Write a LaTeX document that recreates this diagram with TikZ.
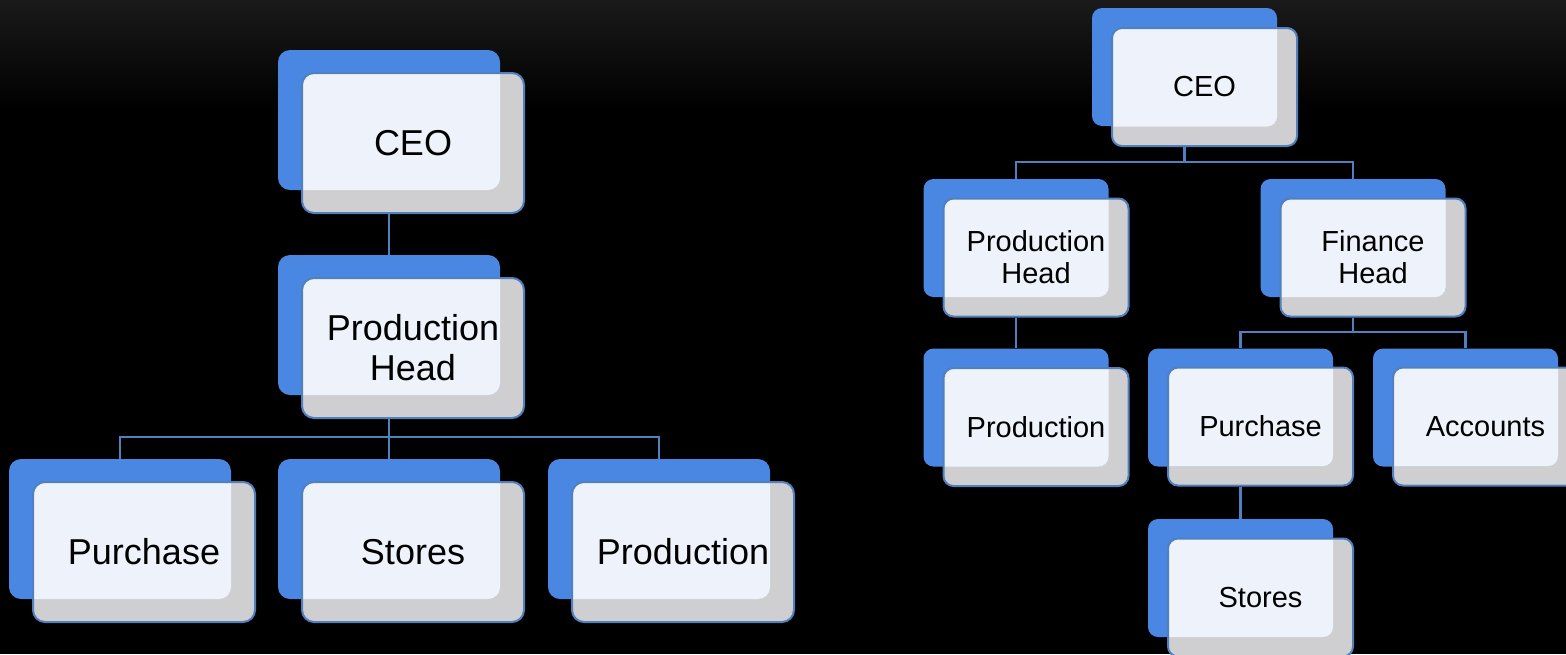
\documentclass[tikz,border=0pt]{standalone}
\usepackage{fontspec}
\setmainfont{Liberation Sans}
\usetikzlibrary{calc}

\definecolor{backblue}{HTML}{4A87E2}
\definecolor{edgeblue}{HTML}{5080BE}
\definecolor{facefill}{HTML}{EEF3FB}
\definecolor{faceshade}{HTML}{CFCFD1}
\definecolor{topgray}{HTML}{1A1A1A}

\tikzset{
  card/.style={draw=edgeblue, line width=1pt, fill=faceshade, align=center,
    inner sep=0pt, text=black},
  % the part of a card lying over its blue backing is lighter and bluish
  bigcard/.style={card, minimum width=111pt, minimum height=70pt,
    rounded corners=6pt, font=\fontsize{18}{20}\selectfont,
    path picture={
      \fill[facefill, rounded corners=6pt]
        ([xshift=-20pt, yshift=20pt]path picture bounding box.north west)
        rectangle ([xshift=-12pt, yshift=11.5pt]path picture bounding box.south east);
    }},
  smallcard/.style={card, minimum width=92.5pt, minimum height=59pt,
    rounded corners=5pt, font=\fontsize{14.5}{16}\selectfont,
    path picture={
      \fill[facefill, rounded corners=5pt]
        ([xshift=-20pt, yshift=20pt]path picture bounding box.north west)
        rectangle ([xshift=-10pt, yshift=9.75pt]path picture bounding box.south east);
    }},
  bigback/.style={fill=backblue, inner sep=0pt, minimum width=111pt,
    minimum height=70pt, rounded corners=6pt},
  smallback/.style={fill=backblue, inner sep=0pt, minimum width=92.5pt,
    minimum height=59pt, rounded corners=5pt},
  link/.style={draw=edgeblue, line width=1.1pt},
}

\begin{document}
\begin{tikzpicture}[x=0.5pt, y=-0.5pt]
  \useasboundingbox (0,0) rectangle (1566,654);
  \clip (0,0) rectangle (1566,654);
  \fill[black] (0,0) rectangle (1566,654);
  \fill[top color=topgray, bottom color=black] (0,0) rectangle (1566,110);

  % ---------- chart on the left ----------
  \node[bigback] (lceo-b) at (389,120) {};
  \node[bigcard] (lceo) at (413,143) {CEO};
  \node[bigback] (lph-b) at (389,325) {};
  \node[bigcard] (lph) at (413,348) {Production\\Head};
  \node[bigback] (lpur-b) at (120,529) {};
  \node[bigcard] (lpur) at (144,552) {Purchase};
  \node[bigback] (lsto-b) at (389,529) {};
  \node[bigcard] (lsto) at (413,552) {Stores};
  \node[bigback] (lpro-b) at (659,529) {};
  \node[bigcard] (lpro) at (683,552) {Production};

  \coordinate (lbus) at (0,437);
  \draw[link] (lceo-b.center |- lceo.south) -- (lph-b.north);
  \draw[link] (lph-b.center |- lph.south) -- (lph-b.center |- lbus);
  \draw[link] (lpur-b.north) |- (lpro-b.center |- lbus) -- (lpro-b.north);
  \draw[link] (lsto-b.center |- lbus) -- (lsto-b.north);

  % ---------- chart on the right ----------
  \node[smallback] (rceo-b) at (1184.5,67) {};
  \node[smallcard] (rceo) at (1204.5,87) {CEO};
  \node[smallback] (rph-b) at (1016,238) {};
  \node[smallcard] (rph) at (1036,257.5) {Production\\Head};
  \node[smallback] (rfh-b) at (1353,238) {};
  \node[smallcard] (rfh) at (1373,257.5) {Finance\\Head};
  \node[smallback] (rpro-b) at (1016,407.5) {};
  \node[smallcard] (rpro) at (1036,427) {Production};
  \node[smallback] (rpur-b) at (1240.5,407.5) {};
  \node[smallcard] (rpur) at (1260.5,426.5) {Purchase};
  \node[smallback] (racc-b) at (1465.5,407.5) {};
  \node[smallcard] (racc) at (1485.5,426.5) {Accounts};
  \node[smallback] (rsto-b) at (1240.5,578) {};
  \node[smallcard] (rsto) at (1260.5,597.5) {Stores};

  \coordinate (rbus1) at (0,162);
  \coordinate (rbus2) at (0,332);
  \draw[link] (rceo-b.center |- rceo.south) -- (rceo-b.center |- rbus1);
  \draw[link] (rph-b.north) |- (rfh-b.center |- rbus1) -- (rfh-b.north);
  \draw[link] (rph-b.center |- rph.south) -- (rpro-b.north);
  \draw[link] (rfh-b.center |- rfh.south) -- (rfh-b.center |- rbus2);
  \draw[link] (rpur-b.north) |- (racc-b.center |- rbus2) -- (racc-b.north);
  \draw[link] (rpur-b.center |- rpur.south) -- (rsto-b.north);
\end{tikzpicture}
\end{document}
